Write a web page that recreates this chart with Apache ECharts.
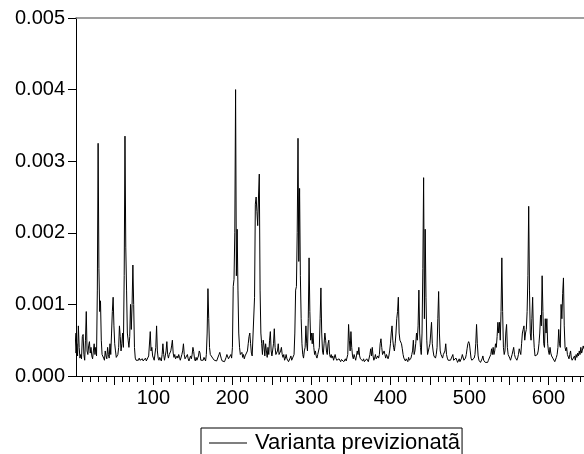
<!DOCTYPE html>
<html>
<head>
<meta charset="utf-8">
<script src="https://cdn.jsdelivr.net/npm/echarts@6/dist/echarts.min.js"></script>
<style>html,body{margin:0;padding:0;background:#fff}#c{width:584px;height:454px}</style>
</head>
<body>
<div id="c"></div>
<script>
const seriesName = 'Varianta previzionatã';
const values = [
0.00060,0.00032,0.00045,0.00028,0.00070,0.00040,0.00025,0.00030,0.00024,0.00055,
0.00058,0.00030,0.00022,0.00050,0.00090,0.00035,0.00030,0.00042,0.00048,0.00032,
0.00040,0.00028,0.00024,0.00035,0.00045,0.00030,0.00040,0.00028,0.00120,0.00325,
0.00150,0.00090,0.00105,0.00050,0.00030,0.00028,0.00025,0.00022,0.00035,0.00028,
0.00024,0.00040,0.00030,0.00025,0.00045,0.00030,0.00060,0.00090,0.00110,0.00070,
0.00045,0.00035,0.00026,0.00028,0.00030,0.00040,0.00070,0.00055,0.00035,0.00045,
0.00060,0.00040,0.00140,0.00335,0.00180,0.00120,0.00060,0.00050,0.00040,0.00055,
0.00100,0.00065,0.00100,0.00155,0.00100,0.00040,0.00025,0.00022,0.00024,0.00021,
0.00022,0.00025,0.00022,0.00020,0.00023,0.00024,0.00021,0.00020,0.00022,0.00025,
0.00021,0.00019,0.00023,0.00028,0.00030,0.00062,0.00035,0.00040,0.00028,0.00025,
0.00022,0.00024,0.00040,0.00070,0.00035,0.00025,0.00022,0.00026,0.00024,0.00021,
0.00030,0.00045,0.00030,0.00022,0.00028,0.00035,0.00048,0.00030,0.00025,0.00030,
0.00028,0.00035,0.00042,0.00050,0.00032,0.00026,0.00030,0.00024,0.00022,0.00028,
0.00025,0.00030,0.00026,0.00022,0.00024,0.00030,0.00035,0.00045,0.00030,0.00024,
0.00022,0.00026,0.00030,0.00024,0.00021,0.00025,0.00028,0.00024,0.00030,0.00040,
0.00034,0.00024,0.00021,0.00026,0.00022,0.00024,0.00028,0.00035,0.00032,0.00022,
0.00020,0.00024,0.00022,0.00026,0.00024,0.00021,0.00030,0.00060,0.00122,0.00080,
0.00040,0.00030,0.00028,0.00032,0.00025,0.00027,0.00022,0.00024,0.00020,0.00021,
0.00019,0.00022,0.00030,0.00033,0.00028,0.00024,0.00021,0.00020,0.00019,0.00020,
0.00022,0.00026,0.00030,0.00028,0.00024,0.00022,0.00026,0.00030,0.00025,0.00040,
0.00125,0.00135,0.00200,0.00400,0.00140,0.00205,0.00120,0.00060,0.00040,0.00030,
0.00028,0.00033,0.00026,0.00030,0.00024,0.00028,0.00026,0.00030,0.00035,0.00045,
0.00055,0.00060,0.00045,0.00032,0.00028,0.00030,0.00030,0.00110,0.00240,0.00250,
0.00230,0.00210,0.00250,0.00282,0.00120,0.00060,0.00045,0.00030,0.00050,0.00042,
0.00028,0.00045,0.00035,0.00026,0.00040,0.00030,0.00050,0.00062,0.00035,0.00028,
0.00030,0.00045,0.00066,0.00040,0.00030,0.00028,0.00035,0.00045,0.00030,0.00028,
0.00035,0.00040,0.00030,0.00026,0.00030,0.00022,0.00025,0.00030,0.00024,0.00022,
0.00020,0.00021,0.00025,0.00028,0.00022,0.00020,0.00024,0.00030,0.00060,0.00120,
0.00125,0.00200,0.00332,0.00160,0.00262,0.00140,0.00080,0.00045,0.00030,0.00025,
0.00035,0.00040,0.00070,0.00045,0.00035,0.00080,0.00165,0.00090,0.00050,0.00060,
0.00045,0.00060,0.00040,0.00030,0.00035,0.00028,0.00025,0.00030,0.00028,0.00040,
0.00080,0.00123,0.00060,0.00035,0.00030,0.00045,0.00060,0.00050,0.00035,0.00030,
0.00045,0.00050,0.00030,0.00026,0.00030,0.00025,0.00028,0.00022,0.00024,0.00030,
0.00025,0.00022,0.00021,0.00020,0.00024,0.00022,0.00020,0.00023,0.00025,0.00021,
0.00020,0.00022,0.00024,0.00021,0.00020,0.00030,0.00072,0.00050,0.00035,0.00062,
0.00040,0.00028,0.00024,0.00030,0.00026,0.00022,0.00028,0.00035,0.00030,0.00040,
0.00028,0.00024,0.00026,0.00022,0.00021,0.00024,0.00020,0.00022,0.00021,0.00024,
0.00022,0.00020,0.00021,0.00030,0.00038,0.00028,0.00040,0.00028,0.00022,0.00025,
0.00030,0.00024,0.00022,0.00028,0.00025,0.00030,0.00045,0.00052,0.00040,0.00030,
0.00028,0.00035,0.00030,0.00025,0.00030,0.00028,0.00024,0.00028,0.00035,0.00045,
0.00060,0.00070,0.00050,0.00040,0.00035,0.00045,0.00060,0.00080,0.00090,0.00110,
0.00060,0.00050,0.00048,0.00045,0.00038,0.00030,0.00025,0.00023,0.00021,0.00024,
0.00022,0.00020,0.00026,0.00022,0.00021,0.00025,0.00030,0.00035,0.00050,0.00030,
0.00035,0.00045,0.00060,0.00050,0.00070,0.00120,0.00060,0.00040,0.00030,0.00060,
0.00150,0.00277,0.00080,0.00205,0.00110,0.00050,0.00030,0.00028,0.00040,0.00045,
0.00060,0.00075,0.00045,0.00035,0.00028,0.00030,0.00025,0.00030,0.00040,0.00080,
0.00118,0.00060,0.00035,0.00030,0.00028,0.00025,0.00030,0.00028,0.00035,0.00045,
0.00030,0.00025,0.00022,0.00024,0.00021,0.00022,0.00020,0.00024,0.00030,0.00022,
0.00020,0.00021,0.00025,0.00022,0.00019,0.00021,0.00024,0.00020,0.00022,0.00025,
0.00030,0.00028,0.00022,0.00020,0.00025,0.00030,0.00038,0.00045,0.00048,0.00045,
0.00035,0.00025,0.00022,0.00020,0.00022,0.00025,0.00030,0.00045,0.00072,0.00045,
0.00028,0.00022,0.00020,0.00019,0.00021,0.00024,0.00028,0.00022,0.00020,0.00019,
0.00021,0.00020,0.00019,0.00022,0.00020,0.00021,0.00030,0.00038,0.00030,0.00040,
0.00030,0.00035,0.00045,0.00040,0.00055,0.00075,0.00060,0.00075,0.00050,0.00090,
0.00165,0.00090,0.00040,0.00030,0.00035,0.00060,0.00072,0.00040,0.00030,0.00028,
0.00025,0.00022,0.00024,0.00030,0.00035,0.00040,0.00030,0.00026,0.00024,0.00022,
0.00025,0.00030,0.00038,0.00040,0.00030,0.00045,0.00060,0.00065,0.00070,0.00050,
0.00060,0.00065,0.00090,0.00140,0.00237,0.00120,0.00060,0.00050,0.00080,0.00110,
0.00060,0.00040,0.00028,0.00030,0.00026,0.00030,0.00035,0.00045,0.00060,0.00085,
0.00070,0.00140,0.00090,0.00045,0.00040,0.00080,0.00060,0.00080,0.00045,0.00035,
0.00030,0.00040,0.00032,0.00028,0.00030,0.00024,0.00022,0.00020,0.00022,0.00026,
0.00030,0.00040,0.00065,0.00045,0.00040,0.00100,0.00080,0.00115,0.00137,0.00070,
0.00040,0.00035,0.00040,0.00030,0.00028,0.00024,0.00030,0.00035,0.00025,0.00022,
0.00020,0.00024,0.00028,0.00022,0.00030,0.00026,0.00032,0.00028,0.00035,0.00030,
0.00040,0.00032,0.00036,0.00042,0.00038
];
const xLabelValues = [100, 200, 300, 400, 500, 600];
const xMajorTicks = [50, 100, 150, 200, 250, 300, 350, 400, 450, 500, 550, 600];
const xMinorTicks = [10,20,30,40,50,60,70,80,90,100,110,120,130,140,150,160,170,180,190,200,
  210,220,230,240,250,260,270,280,290,300,310,320,330,340,350,360,370,380,390,400,
  410,420,430,440,450,460,470,480,490,500,510,520,530,540,550,560,570,580,590,600,
  610,620,630,640];
const yMin = 0, yMax = 0.005, yStep = 0.001;
const xMin = 2, xMax = 645;

const data = values.map((v, i) => [i + 1, v]);
const FONT = '"Liberation Sans", Arial, sans-serif';

const chart = echarts.init(document.getElementById('c'), null, {renderer: 'canvas'});
chart.setOption({
  animation: false,
  backgroundColor: '#fff',
  grid: {left: 76, right: 0, top: 18, bottom: 78},
  xAxis: [
    {
      type: 'value', min: xMin, max: xMax, position: 'bottom',
      axisLine: {show: true, lineStyle: {color: '#000', width: 1}},
      axisTick: {show: true, inside: false, length: 6, customValues: xMinorTicks, lineStyle: {color: '#000'}},
      axisLabel: {show: false},
      splitLine: {show: false}
    },
    {
      type: 'value', min: xMin, max: xMax, position: 'bottom',
      axisLine: {show: false},
      axisTick: {show: true, inside: false, length: 9, customValues: xMajorTicks, lineStyle: {color: '#000'}},
      axisLabel: {show: true, customValues: xLabelValues, margin: 12, color: '#000', fontSize: 20, fontFamily: FONT},
      splitLine: {show: false}
    },
    {
      type: 'value', min: xMin, max: xMax, position: 'top',
      axisLine: {show: true, lineStyle: {color: '#808080', width: 1.5}},
      axisTick: {show: false}, axisLabel: {show: false}, splitLine: {show: false}
    }
  ],
  yAxis: {
    type: 'value', min: yMin, max: yMax, interval: yStep,
    axisLine: {show: true, lineStyle: {color: '#000', width: 1}},
    axisTick: {show: true, inside: false, length: 8, lineStyle: {color: '#000'}},
    axisLabel: {margin: 11, color: '#000', fontSize: 20, fontFamily: FONT,
      formatter: v => v.toFixed(3)},
    splitLine: {show: false}
  },
  legend: {
    show: true, left: 201, top: 428,
    data: [{name: seriesName, icon: 'path://M0,0 L40,0 L40,1 L0,1 Z'}],
    itemWidth: 38, itemHeight: 1,
    borderColor: '#000', borderWidth: 1, borderRadius: 0,
    padding: [4, 2, 10, 8],
    textStyle: {color: '#000', fontSize: 22, fontFamily: FONT, padding: [0, 0, 0, 3]}
  },
  series: [{
    name: seriesName, type: 'line', xAxisIndex: 0, data: data,
    showSymbol: false, symbol: 'none',
    lineStyle: {color: '#000', width: 1},
    itemStyle: {color: '#000'}
  }]
});
</script>
</body>
</html>
